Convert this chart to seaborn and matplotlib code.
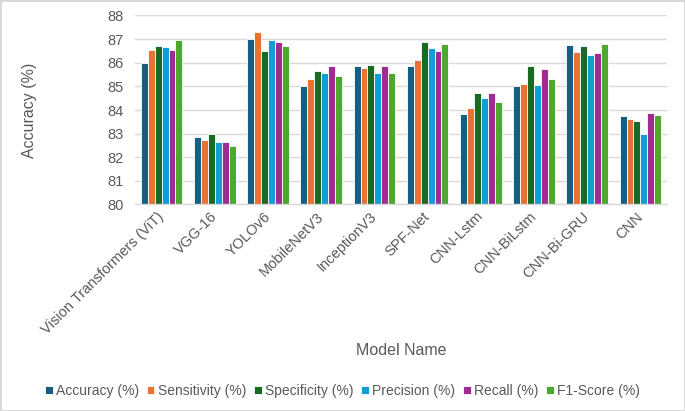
import matplotlib
matplotlib.use("Agg")
import matplotlib.pyplot as plt
import seaborn as sns
import pandas as pd

models = ["Vision Transformers (ViT)", "VGG-16", "YOLOv6", "MobileNetV3", "InceptionV3",
          "SPF-Net", "CNN-Lstm", "CNN-BiLstm", "CNN-Bi-GRU", "CNN"]
accuracy = [86.0, 82.85, 87.0, 85.0, 85.85, 85.85, 83.85, 85.0, 86.75, 83.75]
sensitivity = [86.55, 82.75, 87.32, 85.3, 85.77, 86.1, 84.1, 85.1, 86.45, 83.62]
specificity = [86.73, 83.0, 86.48, 85.63, 85.92, 86.87, 84.7, 85.85, 86.7, 83.52]
precision = [86.66, 82.63, 86.95, 85.56, 85.57, 86.62, 84.52, 85.06, 86.33, 82.97]
recall = [86.52, 82.66, 86.86, 85.86, 85.85, 86.48, 84.7, 85.73, 86.4, 83.86]
f1_score = [86.97, 82.46, 86.73, 85.46, 85.57, 86.8, 84.34, 85.31, 86.8, 83.77]

metric_names = ["Accuracy (%)", "Sensitivity (%)", "Specificity (%)",
                "Precision (%)", "Recall (%)", "F1-Score (%)"]
colors = ["#156082", "#E97132", "#196B24", "#0F9ED5", "#A02B93", "#4EA72E"]

series = [accuracy, sensitivity, specificity, precision, recall, f1_score]
rows = []
for name, vals in zip(metric_names, series):
    for m, v in zip(models, vals):
        rows.append({"Model": m, "Metric": name, "Value": v})
df = pd.DataFrame(rows)

sns.set_theme(style="white")
plt.rcParams["font.family"] = ["Liberation Sans", "DejaVu Sans"]
text_color = "#595959"

fig = plt.figure(figsize=(6.85, 4.11), dpi=100)
ax = fig.add_axes([135/685, 1 - 204.5/411, (667-135)/685, (204.5-15.5)/411])

sns.barplot(data=df, x="Model", y="Value", hue="Metric", palette=colors,
            width=0.78, edgecolor="white", linewidth=0.6, ax=ax, saturation=1)

ax.set_ylim(80, 88)
ax.set_yticks(range(80, 89))
ax.yaxis.grid(True, color="#D9D9D9", linewidth=1)
ax.set_axisbelow(True)
for s in ["left", "right", "top"]:
    ax.spines[s].set_visible(False)
ax.spines["bottom"].set_color("#D9D9D9")
ax.spines["bottom"].set_linewidth(1)
ax.tick_params(axis="both", length=0, colors=text_color, labelsize=10.5)
ax.tick_params(axis="y", pad=8)
ax.tick_params(axis="x", pad=7)
plt.setp(ax.get_xticklabels(), rotation=45, ha="right", va="center",
         rotation_mode="anchor")

ax.set_xlabel("Model Name", fontsize=11.5, color=text_color)
ax.set_ylabel("Accuracy (%)", fontsize=11.5, color=text_color)
ax.xaxis.set_label_coords(0.5, 1 - (343 - 15.5) / 189)
ax.yaxis.set_label_coords((37 - 135) / 532, 0.5)

sns.move_legend(ax, "center", bbox_to_anchor=(0.5, 1 - 391/411),
                bbox_transform=fig.transFigure, ncol=6, frameon=False, title=None,
                fontsize=10, handlelength=0.55, handleheight=0.55,
                handletextpad=0.25, columnspacing=0.55, labelcolor=text_color)

fig.patch.set_edgecolor("#D9D9D9")
fig.patch.set_linewidth(2)
fig.savefig("out.png", dpi=100, facecolor="white", edgecolor=fig.patch.get_edgecolor())
